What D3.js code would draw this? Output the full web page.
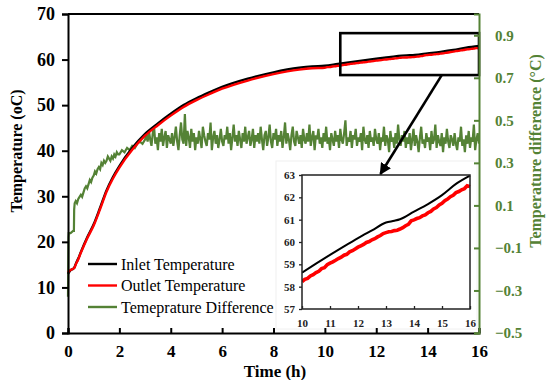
<!DOCTYPE html>
<html><head><meta charset="utf-8">
<script src="https://cdn.jsdelivr.net/npm/d3@7"></script>
<style>body{margin:0;background:#fff}svg{display:block}</style>
</head><body><svg id="c" width="552" height="380"></svg>
<script>
// ---- data ----
const mainTime   = [0,0.05,0.1,0.2,0.25,0.3,0.4,0.5,0.75,1.0,1.25,1.5,1.75,2.0,2.5,3.0,3.5,4.0,4.5,5.0,5.5,6.0,7.0,8.0,9.0,9.5];
const outletMain = [13.3,13.6,13.8,14.1,14.3,15.0,16.2,17.6,20.8,23.6,27.2,31.0,33.9,36.3,40.2,43.3,45.6,47.7,49.6,51.1,52.4,53.6,55.4,56.8,57.8,58.1];
const inletMain  = [12.95,13.4,13.78,14.08,14.4,15.12,16.33,17.75,21.0,23.85,27.5,31.3,34.23,36.64,40.58,43.7,46.0,48.1,50.0,51.5,52.8,54.0,55.8,57.2,58.2,58.5];
// late period (10-16 h), outlet every 0.1 h
const outletLateStart = 10, outletLateStep = 0.1;
const outletLate = [58.22,58.33,58.37,58.48,58.54,58.63,58.69,58.81,58.85,58.98,59.05,
  59.11,59.18,59.26,59.32,59.41,59.45,59.56,59.61,59.69,59.77,
  59.83,59.89,59.98,60.02,60.10,60.15,60.23,60.29,60.38,60.42,
  60.46,60.47,60.51,60.53,60.58,60.64,60.73,60.79,60.95,60.99,
  61.05,61.09,61.17,61.21,61.31,61.37,61.48,61.54,61.66,61.73,
  61.85,61.92,62.03,62.09,62.21,62.26,62.34,62.39,62.52,62.48];
const inletLateTime = [10,10.5,11,11.5,12,12.5,13,13.3,13.5,14,14.5,15,15.5,16];
const inletLate     = [58.63,59.03,59.42,59.80,60.17,60.52,60.87,60.95,61.02,61.36,61.70,62.10,62.60,62.97];
// temperature difference
const diffEarlyTime = [0,0.01,0.02,0.03,0.1,0.2,0.23,0.24,0.26,0.3,0.35,0.4,0.45,0.5,0.55,0.6,0.65,0.7,0.75,0.8,0.85,0.9,0.95,1.0,1.05,1.1,1.15,1.2,1.25,1.3,1.35,1.4,1.45,1.5,1.55,1.6,1.65,1.7,1.75,1.8,1.85,1.9,1.95,2.0,2.1,2.2,2.3,2.4,2.5,2.6,2.7,2.8,2.9,3.0];
const diffEarly     = [-0.33,-0.2,-0.05,-0.03,-0.03,-0.02,-0.02,0.08,0.11,0.12,0.11,0.13,0.14,0.15,0.14,0.16,0.18,0.19,0.18,0.2,0.22,0.21,0.23,0.24,0.26,0.25,0.27,0.28,0.27,0.3,0.29,0.31,0.3,0.31,0.33,0.32,0.31,0.33,0.32,0.34,0.33,0.35,0.34,0.34,0.36,0.35,0.37,0.36,0.38,0.37,0.39,0.40,0.39,0.41];
const diffLateStart = 3.0, diffLateStep = 0.05;
const diffLate = [
 0.43,0.40,0.45,0.41,0.38,0.44,0.47,0.39,0.42,0.36,0.44,0.40,0.46,0.38,0.42,0.45,0.37,0.43,0.41,0.39,
 0.44,0.38,0.42,0.47,0.40,0.36,0.43,0.49,0.41,0.39,0.53,0.38,0.45,0.42,0.37,0.46,0.40,0.44,0.36,0.42,
 0.39,0.45,0.41,0.37,0.47,0.43,0.40,0.38,0.44,0.41,0.49,0.36,0.42,0.45,0.39,0.43,0.37,0.41,0.46,0.40,
 0.38,0.43,0.41,0.47,0.39,0.44,0.36,0.42,0.48,0.40,0.43,0.38,0.45,0.41,0.37,0.44,0.40,0.47,0.39,0.42,
 0.45,0.38,0.41,0.46,0.37,0.43,0.40,0.44,0.39,0.47,0.41,0.36,0.43,0.45,0.38,0.42,0.48,0.40,0.37,0.44,
 0.41,0.46,0.38,0.43,0.40,0.45,0.37,0.42,0.49,0.39,0.44,0.41,0.36,0.43,0.47,0.40,0.38,0.45,0.42,0.39,
 0.43,0.37,0.46,0.41,0.39,0.44,0.40,0.48,0.38,0.42,0.45,0.36,0.43,0.41,0.46,0.39,0.42,0.37,0.44,0.40,
 0.47,0.39,0.42,0.36,0.44,0.41,0.38,0.45,0.40,0.43,0.37,0.46,0.41,0.39,0.44,0.50,0.38,0.42,0.40,0.45,
 0.37,0.43,0.41,0.46,0.38,0.42,0.40,0.44,0.36,0.47,0.41,0.39,0.43,0.37,0.45,0.40,0.42,0.38,0.46,0.41,
 0.39,0.44,0.36,0.42,0.40,0.47,0.38,0.43,0.41,0.35,0.45,0.40,0.42,0.37,0.44,0.39,0.48,0.41,0.38,0.43,
 0.40,0.45,0.37,0.42,0.39,0.44,0.36,0.41,0.46,0.38,0.43,0.40,0.35,0.42,0.47,0.39,0.41,0.37,0.44,0.40,
 0.42,0.36,0.45,0.39,0.41,0.48,0.37,0.43,0.40,0.38,0.44,0.35,0.42,0.39,0.46,0.40,0.37,0.43,0.41,0.38,
 0.44,0.39,0.36,0.42,0.40,0.47,0.38,0.41,0.35,0.43,0.39,0.45,0.37,0.42,0.40,0.48,0.36,0.41,0.44,0.39];
const xTicks = [0,2,4,6,8,10,12,14,16];
const yLeftTicks = [0,10,20,30,40,50,60,70];
const yRightTicks = [-0.5,-0.3,-0.1,0.1,0.3,0.5,0.7,0.9];
const insetXTicks = [10,11,12,13,14,15,16];
const insetYTicks = [57,58,59,60,61,62,63];
const zoomBox = {t0:10.6, t1:16, T0:56.6, T1:65.8};
const seriesNames = ["Inlet Temperature","Outlet Temperature","Temeprature Difference"];

// ---- build series ----
const outlet = mainTime.map((t,i)=>[t,outletMain[i]]).concat(outletLate.map((v,i)=>[outletLateStart+i*outletLateStep,v]));
const inlet = mainTime.map((t,i)=>[t,inletMain[i]]).concat(inletLateTime.map((t,i)=>[t,inletLate[i]]));
const diff = diffEarlyTime.map((t,i)=>[t,diffEarly[i]]).concat(diffLate.map((v,i)=>[diffLateStart+(i+1)*diffLateStep,v]));

const GREEN="#548235", RED="#ff0000";
const svg=d3.select("#c");
const serif="'Liberation Serif','Times New Roman',serif";
const x=d3.scaleLinear([0,16],[68,479]);
const yL=d3.scaleLinear([0,70],[333,14]);
const yR=d3.scaleLinear([-0.5,1.0],[333,14]);

// curves
const lineL=d3.line().x(d=>x(d[0])).y(d=>yL(d[1])).curve(d3.curveMonotoneX);
svg.append("path").datum(diff).attr("d",d3.line().x(d=>x(d[0])).y(d=>yR(d[1]))).attr("fill","none").attr("stroke",GREEN).attr("stroke-width",2.2);
svg.append("path").datum(inlet).attr("d",lineL).attr("fill","none").attr("stroke","#000").attr("stroke-width",2.4);
svg.append("path").datum(outlet).attr("d",lineL).attr("fill","none").attr("stroke",RED).attr("stroke-width",2.4);

// top border
svg.append("line").attr("x1",x(0)).attr("x2",x(16)).attr("y1",yL(70)).attr("y2",yL(70)).attr("stroke","#000").attr("stroke-width",2);

// zoom box
svg.append("rect").attr("x",x(zoomBox.t0)).attr("y",yL(zoomBox.T1)).attr("width",x(zoomBox.t1)-x(zoomBox.t0)).attr("height",yL(zoomBox.T0)-yL(zoomBox.T1))
  .attr("fill","none").attr("stroke","#000").attr("stroke-width",2.6);

// inset
const ix=d3.scaleLinear([10,16],[302,470]);
const iy=d3.scaleLinear([57,63],[309,175]);
svg.append("rect").attr("x",276).attr("y",161).attr("width",201).attr("height",168).attr("fill","#fff").attr("stroke","#f0f0f0");
svg.append("defs").append("clipPath").attr("id","ic").append("rect").attr("x",302).attr("y",173).attr("width",170).attr("height",136);
const g=svg.append("g");
const lineI=d3.line().x(d=>ix(d[0])).y(d=>iy(d[1])).curve(d3.curveMonotoneX);
g.append("path").datum(inlet.filter(d=>d[0]>=10)).attr("d",lineI).attr("fill","none").attr("stroke","#000").attr("stroke-width",2).attr("clip-path","url(#ic)");
g.append("path").datum(outlet.filter(d=>d[0]>=10)).attr("d",d3.line().x(d=>ix(d[0])).y(d=>iy(d[1]))).attr("fill","none").attr("stroke",RED).attr("stroke-width",3.6).attr("clip-path","url(#ic)");
g.append("rect").attr("x",302).attr("y",175).attr("width",168).attr("height",134).attr("fill","none").attr("stroke","#222").attr("stroke-width",1.5);
const iax=g.append("g").attr("transform","translate(0,309)").call(d3.axisBottom(ix).tickValues(insetXTicks).tickSize(-3).tickPadding(10).tickFormat(d3.format("d")));
const iay=g.append("g").attr("transform","translate(302,0)").call(d3.axisLeft(iy).tickValues(insetYTicks).tickSize(3).tickPadding(4).tickFormat(d3.format("d")));
[iax,iay].forEach(a=>{a.select(".domain").remove();a.selectAll("line").attr("stroke","#222").attr("stroke-width",1.3);
  a.selectAll("text").attr("font-family",serif).attr("font-weight","bold").attr("font-size",11).attr("fill","#222");});

// arrow
svg.append("defs").append("marker").attr("id","ah").attr("viewBox","0 0 10 10").attr("refX",9).attr("refY",5)
  .attr("markerWidth",4.5).attr("markerHeight",4.5).attr("orient","auto").append("path").attr("d","M0,0L10,5L0,10z").attr("fill","#000");
svg.append("line").attr("x1",x(14.55)).attr("y1",yL(zoomBox.T0)).attr("x2",ix(12.8)).attr("y2",iy(63)-1)
  .attr("stroke","#000").attr("stroke-width",2.6).attr("marker-end","url(#ah)");

// axes
const ax=svg.append("g").attr("transform","translate(0,333)").call(d3.axisBottom(x).tickValues(xTicks).tickSize(-5).tickPadding(12));
const ayl=svg.append("g").attr("transform","translate(68,0)").call(d3.axisLeft(yL).tickValues(yLeftTicks).tickSize(6).tickPadding(7));
const ayr=svg.append("g").attr("transform","translate(479,0)").call(d3.axisRight(yR).tickValues(yRightTicks).tickSize(-5).tickPadding(16).tickFormat(d3.format(".1f")));
[ax,ayl].forEach(a=>{a.select(".domain").attr("stroke","#000").attr("stroke-width",2);a.selectAll("line").attr("stroke","#000").attr("stroke-width",2);
  a.selectAll("text").attr("font-family",serif).attr("font-weight","bold").attr("font-size",18).attr("fill","#000");});
ax.selectAll("text").attr("font-size",17);
ayr.select(".domain").attr("stroke",GREEN).attr("stroke-width",2);
ayr.selectAll("line").attr("stroke",GREEN).attr("stroke-width",2);
ayr.selectAll("text").attr("font-family",serif).attr("font-weight","bold").attr("font-size",15).attr("fill",GREEN);

// titles
svg.append("text").attr("x",275).attr("y",377).attr("text-anchor","middle").attr("font-family",serif).attr("font-weight","bold").attr("font-size",17).text("Time (h)");
svg.append("text").attr("transform","translate(22,151) rotate(-90)").attr("text-anchor","middle").attr("font-family",serif).attr("font-weight","bold").attr("font-size",16).text("Temperature (oC)");
svg.append("text").attr("transform","translate(541,151) rotate(-90)").attr("text-anchor","middle").attr("font-family",serif).attr("font-weight","bold").attr("font-size",16).attr("fill",GREEN).text("Temperature difference  (°C)");

// legend
const colors=["#000",RED,GREEN];
const lg=svg.append("g");
seriesNames.forEach((n,i)=>{
  const yy=264+i*21.5;
  lg.append("line").attr("x1",88).attr("x2",117).attr("y1",yy).attr("y2",yy).attr("stroke",colors[i]).attr("stroke-width",2.4);
  lg.append("text").attr("x",121).attr("y",yy+5.5).attr("font-family",serif).attr("font-size",16).attr("fill","#000").text(n);
});
</script></body></html>
